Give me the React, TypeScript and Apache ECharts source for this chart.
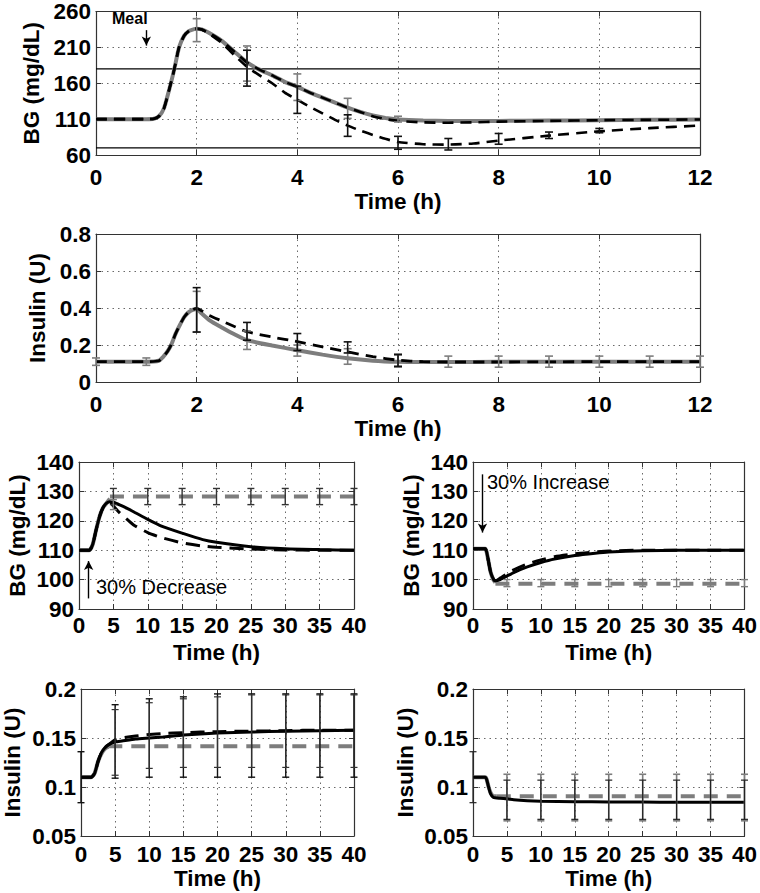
import React, { useEffect, useRef } from 'react';
import * as echarts from 'echarts';

// ---------------- data ----------------
// Panel 1: BG after meal (0-12 h)
const mealTime = [0, 1, 1.15, 1.25, 1.35, 1.45, 1.55, 1.65, 1.75, 1.85, 1.95, 2, 2.1, 2.25, 2.5, 2.75, 3, 3.25, 3.5, 3.75, 4, 4.25, 4.5, 4.75, 5, 5.25, 5.5, 5.75, 6, 6.5, 7, 7.5, 8, 9, 10, 11, 12];
const mealBgGray = [110, 110, 110.5, 114, 125, 150, 178, 210, 226, 233, 235.5, 236, 235, 230, 219, 204, 189, 179, 171, 162, 155, 147, 140, 133, 126, 120, 115, 111.5, 109.5, 108, 107.5, 107.5, 107.5, 108, 108.5, 109, 109.5];
const mealBgDashA = [110, 110, 110.5, 114, 125, 150, 178, 210, 226, 233, 235.5, 236, 235, 230, 219, 204, 189, 179, 171, 162, 155, 147, 140, 133, 126, 120, 114, 110, 107.5, 105.5, 105, 105.5, 106.5, 107.5, 108.5, 109, 109.5];
const mealBgDashB = [110, 110, 110.5, 114, 125, 150, 178, 210, 226, 233, 235.5, 236, 235, 229, 216, 199, 183, 171, 160, 147, 137, 127, 118, 109, 101, 94, 88, 82.5, 78, 75, 74.5, 76, 80, 87, 93, 97.5, 101];
const mealBgErrGray = [[2, 218, 250], [3, 163, 212], [4, 136, 173], [5, 111, 139], [6, 106, 114]];
const mealBgErrBlack = [[3, 156, 206], [4, 118, 156], [5, 86, 116], [6, 68, 86], [7, 67, 83], [8, 75, 90], [9, 83, 92], [10, 91, 97]];
const bgLimits = [70, 180];

// Panel 2: insulin after meal
const insTime = [0, 1, 1.25, 1.33, 1.42, 1.5, 1.58, 1.67, 1.75, 1.83, 1.92, 2, 2.1, 2.25, 2.5, 2.75, 3, 3.5, 4, 4.5, 5, 5.5, 6, 6.5, 7, 8, 9, 10, 11, 12];
const insGray = [0.11, 0.11, 0.115, 0.135, 0.165, 0.205, 0.26, 0.31, 0.35, 0.375, 0.39, 0.395, 0.37, 0.335, 0.295, 0.258, 0.226, 0.197, 0.172, 0.148, 0.128, 0.115, 0.109, 0.108, 0.108, 0.109, 0.11, 0.11, 0.11, 0.11];
const insDash = [0.11, 0.11, 0.115, 0.135, 0.165, 0.205, 0.26, 0.31, 0.35, 0.375, 0.39, 0.398, 0.385, 0.36, 0.33, 0.3, 0.272, 0.243, 0.218, 0.19, 0.163, 0.137, 0.118, 0.11, 0.108, 0.108, 0.109, 0.11, 0.11, 0.11];
const insErrGray = [[0, 0.09, 0.13], [1, 0.09, 0.13], [2, 0.27, 0.49], [3, 0.176, 0.276], [4, 0.14, 0.2], [5, 0.096, 0.18], [6, 0.08, 0.145], [7, 0.08, 0.14], [8, 0.08, 0.14], [9, 0.08, 0.14], [10, 0.08, 0.14], [11, 0.08, 0.14], [12, 0.08, 0.14]];
const insErrBlack = [[2, 0.27, 0.51], [3, 0.226, 0.322], [4, 0.17, 0.262], [5, 0.157, 0.217], [6, 0.085, 0.15]];

// Panel 3: BG, 30% decrease
const decTime = [0, 1.5, 2, 2.5, 3, 3.5, 4, 4.5, 5, 6, 7, 8, 10, 12, 15, 18, 20, 25, 30, 35, 40];
const decBgSolid = [110, 110, 112, 117, 121.5, 124.5, 126, 126.5, 126.3, 125.3, 124.2, 123, 120.5, 118.2, 115.8, 113.6, 112.7, 111.2, 110.5, 110.2, 110];
const decBgDash = [110, 110, 112, 117, 121.5, 124.5, 126, 126.5, 125, 122.5, 120.5, 118.5, 116, 114.3, 112.5, 111.4, 111, 110.4, 110.1, 110, 110];
const decBgGrayStartT = [0, 1.5, 2, 2.5, 3, 3.5, 4, 4.5];
const decBgGrayStart = [110, 110, 112, 117, 121.5, 124.5, 126, 127.5];
const decBgGrayLevel = 128.3;
const decBgGrayLevelT = [4.5, 40];
const decBgErrGray = [[5, 125.5, 131], [10, 125.5, 131], [15, 125.5, 131], [20, 125.5, 131], [25, 125.5, 131], [30, 125.5, 131], [35, 125.5, 131], [40, 125.5, 131]];
const decBgErrBlack = [[5, 123.8, 127.2]];

// Panel 4: BG, 30% increase
const incTime = [0, 1.8, 2, 2.3, 2.6, 3, 3.3, 4, 5, 6, 8, 10, 12, 15, 18, 20, 25, 30, 35, 40];
const incBgSolid = [110.5, 110.5, 109.5, 106, 102.5, 100.2, 99.6, 100, 101.2, 102.4, 104.3, 105.8, 107, 108.2, 109, 109.4, 109.8, 110, 110, 110];
const incBgDash = [110.5, 110.5, 109.5, 106, 102.5, 100.2, 99.6, 100.5, 102, 103.3, 105.3, 106.7, 107.8, 108.8, 109.4, 109.7, 110, 110, 110, 110];
const incBgGrayStartT = [0, 1.8, 2, 2.3, 2.6, 3, 3.3];
const incBgGrayStart = [110.5, 110.5, 109.5, 106, 102.5, 100, 99];
const incBgGrayLevel = 98.6;
const incBgGrayLevelT = [3.3, 40];
const incBgErrGray = [[5, 97.6, 100], [10, 97.6, 100], [15, 97.6, 100], [20, 97.6, 100], [25, 97.6, 100], [30, 97.6, 100], [35, 97.6, 100], [40, 97.6, 100]];

// Panel 5: insulin, 30% decrease
const decInsTime = [0, 1.5, 2, 2.5, 3, 3.5, 4, 5, 6, 8, 10, 12, 15, 20, 25, 30, 35, 40];
const decInsSolid = [0.11, 0.11, 0.114, 0.126, 0.135, 0.14, 0.143, 0.146, 0.147, 0.149, 0.15, 0.151, 0.153, 0.155, 0.156, 0.157, 0.1575, 0.158];
const decInsDash = [0.11, 0.11, 0.114, 0.126, 0.135, 0.14, 0.143, 0.148, 0.15, 0.152, 0.1535, 0.1545, 0.1555, 0.1565, 0.157, 0.1575, 0.158, 0.158];
const decInsGrayStartT = [0, 1.5, 2, 2.5, 3, 3.5, 4];
const decInsGrayStart = [0.11, 0.11, 0.114, 0.126, 0.134, 0.139, 0.141];
const decInsGrayLevel = 0.1415;
const decInsGrayLevelT = [4, 40];
const decInsErrOuter = [[0, 0.084, 0.136], [5, 0.109, 0.184], [10, 0.11, 0.19], [15, 0.11, 0.192], [20, 0.11, 0.195], [25, 0.11, 0.195], [30, 0.11, 0.195], [35, 0.11, 0.195], [40, 0.11, 0.195]];
const decInsErrInner = [[5, 0.112, 0.179], [10, 0.119, 0.186], [15, 0.12, 0.19], [20, 0.12, 0.192], [25, 0.12, 0.194], [30, 0.12, 0.194], [35, 0.12, 0.194], [40, 0.12, 0.194]];

// Panel 6: insulin, 30% increase
const incInsTime = [0, 1.8, 2, 2.3, 2.6, 3, 4, 5, 6, 8, 10, 15, 20, 25, 30, 35, 40];
const incInsSolid = [0.11, 0.11, 0.108, 0.1, 0.093, 0.0895, 0.0885, 0.088, 0.087, 0.086, 0.0855, 0.085, 0.0848, 0.0846, 0.0845, 0.0845, 0.0845];
const incInsGrayStartT = [0, 1.8, 2, 2.3, 2.6, 3, 3.5];
const incInsGrayStart = [0.11, 0.11, 0.108, 0.1, 0.094, 0.0905, 0.0905];
const incInsGrayLevel = 0.0905;
const incInsGrayLevelT = [3.5, 40];
const incInsErrGray = [[5, 0.0655, 0.113], [10, 0.0655, 0.113], [15, 0.0655, 0.113], [20, 0.0655, 0.113], [25, 0.0655, 0.113], [30, 0.0655, 0.113], [35, 0.0655, 0.113], [40, 0.0655, 0.113]];
const incInsErrBlack = [[0, 0.084, 0.136], [5, 0.067, 0.107], [10, 0.067, 0.107], [15, 0.067, 0.107], [20, 0.067, 0.107], [25, 0.067, 0.107], [30, 0.067, 0.107], [35, 0.067, 0.107], [40, 0.067, 0.107]];

// ---------------- style ----------------
const FONT = '"Liberation Sans", Arial, Helvetica, sans-serif';
const GRAY = '#7d7d7d';
const FRAME = '#333333';

const zip = (xs: number[], ys: number[]) => xs.map((x, k) => [x, ys[k]]);
const flat = (xs: number[], v: number) => xs.map((x) => [x, v]);

function lineS(i: number, data: number[][], color: string, width: number, type: any, z: number, extra: any = {}) {
  return {
    type: 'line', xAxisIndex: 2 * i, yAxisIndex: 2 * i, data, showSymbol: false, symbol: 'none',
    smooth: 0.2, lineStyle: { color, width, type }, z, silent: true, ...extra,
  };
}

function errS(i: number, data: number[][], color: string, cap: number, width: number, z: number) {
  return {
    type: 'custom', coordinateSystem: 'cartesian2d', xAxisIndex: 2 * i, yAxisIndex: 2 * i,
    data, encode: { x: 0, y: [1, 2] }, z, silent: true, clip: false,
    renderItem: (_p: any, api: any) => {
      const x = api.value(0);
      const a = api.coord([x, api.value(1)]);
      const b = api.coord([x, api.value(2)]);
      const st = { stroke: color, lineWidth: width };
      return {
        type: 'group',
        children: [
          { type: 'line', shape: { x1: a[0], y1: a[1], x2: b[0], y2: b[1] }, style: st },
          { type: 'line', shape: { x1: a[0] - cap, y1: a[1], x2: a[0] + cap, y2: a[1] }, style: st },
          { type: 'line', shape: { x1: b[0] - cap, y1: b[1], x2: b[0] + cap, y2: b[1] }, style: st },
        ],
      };
    },
  };
}

function arrowML(from: number[], to: number[]) {
  return {
    silent: true, symbol: ['none', 'arrow'], symbolSize: [7, 9],
    lineStyle: { color: '#000', width: 1.4, type: 'solid' }, label: { show: false },
    data: [[{ coord: from }, { coord: to }]],
  };
}

const layouts = [
  { left: 96, top: 8, width: 604, height: 147 },
  { left: 96, top: 234, width: 604, height: 148 },
  { left: 79, top: 462, width: 275, height: 147 },
  { left: 473, top: 462, width: 275, height: 147 },
  { left: 80, top: 689, width: 274, height: 147 },
  { left: 473, top: 689, width: 275, height: 147 },
];

const panels = [
  { x: [0, 12, 2], y: [60, 260, 50], yname: 'BG (mg/dL)', ygap: 51, xm: 11, xg: 31 },
  { x: [0, 12, 2], y: [0, 0.8, 0.2], yname: 'Insulin (U)', ygap: 45, xm: 11, xg: 31 },
  { x: [0, 40, 5], y: [90, 140, 10], yname: 'BG (mg/dL)', ygap: 50, xm: 5, xg: 32 },
  { x: [0, 40, 5], y: [90, 140, 10], yname: 'BG (mg/dL)', ygap: 50, xm: 5, xg: 32 },
  { x: [0, 40, 5], y: [0.05, 0.2, 0.05], yname: 'Insulin (U)', ygap: 57, xm: 7, xg: 30 },
  { x: [0, 40, 5], y: [0.05, 0.2, 0.05], yname: 'Insulin (U)', ygap: 56, xm: 7, xg: 30 },
];

const labelStyle = { color: '#000', fontFamily: FONT, fontWeight: 'bold' as const, fontSize: 22.5 };
const tick = { inside: true, length: 5, lineStyle: { color: FRAME, width: 1 } };
const axLine = { show: true, onZero: false, lineStyle: { color: FRAME, width: 1.2 } };
const grid = { show: true, lineStyle: { type: [1.5, 4], color: '#6a6a6a', width: 1 } };

function buildAxes() {
  const xAxis: any[] = [];
  const yAxis: any[] = [];
  panels.forEach((p, i) => {
    const [xmin, xmax, xint] = p.x;
    const [ymin, ymax, yint] = p.y;
    xAxis.push({
      type: 'value', gridIndex: i, position: 'bottom', min: xmin, max: xmax, interval: xint,
      axisLine: axLine, axisTick: tick, splitLine: grid,
      axisLabel: { ...labelStyle, margin: p.xm, showMinLabel: true, showMaxLabel: true },
      name: 'Time (h)', nameLocation: 'middle', nameGap: p.xg, nameTextStyle: labelStyle,
    });
    xAxis.push({
      type: 'value', gridIndex: i, position: 'top', min: xmin, max: xmax, interval: xint,
      axisLine: axLine, axisTick: tick, splitLine: { show: false }, axisLabel: { show: false },
    });
    yAxis.push({
      type: 'value', gridIndex: i, position: 'left', min: ymin, max: ymax, interval: yint,
      axisLine: axLine, axisTick: tick, splitLine: grid,
      axisLabel: { ...labelStyle, margin: 5, showMinLabel: true, showMaxLabel: true },
      name: p.yname, nameLocation: 'middle', nameGap: p.ygap, nameTextStyle: labelStyle,
    });
    yAxis.push({
      type: 'value', gridIndex: i, position: 'right', min: ymin, max: ymax, interval: yint,
      axisLine: axLine, axisTick: tick, splitLine: { show: false }, axisLabel: { show: false },
    });
  });
  return { xAxis, yAxis };
}

function buildSeries() {
  const s: any[] = [];
  // Panel 1
  s.push(lineS(0, zip(mealTime, mealBgGray), GRAY, 4, 'solid', 3, {
    markLine: arrowML([1, 234], [1, 212.5]),
  }));
  s.push(lineS(0, zip(mealTime, mealBgDashA), '#000', 2.6, [11, 7], 4));
  s.push(lineS(0, zip(mealTime, mealBgDashB), '#000', 2.6, [11, 7], 4));
  s.push(lineS(0, flat([0, 12], bgLimits[1]), '#000', 1.2, 'solid', 2, { smooth: false }));
  s.push(lineS(0, flat([0, 12], bgLimits[0]), '#000', 1.2, 'solid', 2, { smooth: false }));
  s.push(errS(0, mealBgErrGray, GRAY, 4, 1.6, 5));
  s.push(errS(0, mealBgErrBlack, '#111', 4, 1.6, 5));
  // Panel 2
  s.push(lineS(1, zip(insTime, insGray), GRAY, 4, 'solid', 3));
  s.push(lineS(1, zip(insTime, insDash), '#000', 2.8, [11, 7], 4));
  s.push(errS(1, insErrGray, GRAY, 4, 1.6, 5));
  s.push(errS(1, insErrBlack, '#111', 4, 1.6, 5));
  // Panel 3
  s.push(lineS(2, zip(decBgGrayStartT, decBgGrayStart), GRAY, 4, 'solid', 2, {
    markLine: arrowML([1.4, 93.6], [1.4, 106.3]),
  }));
  s.push(lineS(2, flat(decBgGrayLevelT, decBgGrayLevel), GRAY, 4, [14, 9], 2, { smooth: false }));
  s.push(lineS(2, zip(decTime, decBgSolid), '#000', 3, 'solid', 3));
  s.push(lineS(2, zip(decTime, decBgDash), '#000', 3, [14, 8], 3));
  s.push(errS(2, decBgErrGray, '#333', 3.5, 1.4, 5));
  s.push(errS(2, decBgErrBlack, GRAY, 3.5, 1.4, 5));
  // Panel 4
  s.push(lineS(3, zip(incBgGrayStartT, incBgGrayStart), GRAY, 4, 'solid', 2, {
    markLine: arrowML([1.4, 135.8], [1.4, 116]),
  }));
  s.push(lineS(3, flat(incBgGrayLevelT, incBgGrayLevel), GRAY, 4, [14, 9], 2, { smooth: false }));
  s.push(lineS(3, zip(incTime, incBgDash), '#000', 3, [14, 8], 3));
  s.push(lineS(3, zip(incTime, incBgSolid), '#000', 3, 'solid', 3));
  s.push(errS(3, incBgErrGray, GRAY, 3.5, 1.4, 5));
  // Panel 5
  s.push(lineS(4, zip(decInsGrayStartT, decInsGrayStart), GRAY, 4, 'solid', 2));
  s.push(lineS(4, flat(decInsGrayLevelT, decInsGrayLevel), GRAY, 4, [14, 9], 2, { smooth: false }));
  s.push(lineS(4, zip(decInsTime, decInsSolid), '#000', 3, 'solid', 3));
  s.push(lineS(4, zip(decInsTime, decInsDash), '#000', 3, [14, 8], 3));
  s.push(errS(4, decInsErrOuter, '#111', 3.5, 1.4, 5));
  s.push(errS(4, decInsErrInner, '#333', 3.5, 1.2, 5));
  // Panel 6
  s.push(lineS(5, zip(incInsGrayStartT, incInsGrayStart), GRAY, 4, 'solid', 2));
  s.push(lineS(5, flat(incInsGrayLevelT, incInsGrayLevel), GRAY, 4, [14, 9], 2, { smooth: false }));
  s.push(lineS(5, zip(incInsTime, incInsSolid), '#000', 3, 'solid', 3));
  s.push(errS(5, incInsErrGray, GRAY, 3.5, 1.6, 5));
  s.push(errS(5, incInsErrBlack, '#222', 3.5, 1.2, 5));
  return s;
}

export default function App() {
  const ref = useRef<HTMLDivElement>(null);
  useEffect(() => {
    if (!ref.current) return;
    const chart = echarts.init(ref.current, undefined, { renderer: 'svg' });
    const { xAxis, yAxis } = buildAxes();
    chart.setOption({
      animation: false,
      backgroundColor: '#ffffff',
      grid: layouts.map((l) => ({ ...l, containLabel: false })),
      xAxis,
      yAxis,
      series: buildSeries(),
      graphic: [
        { type: 'text', left: 112, top: 10, style: { text: 'Meal', font: `bold 16px ${FONT}`, fill: '#000' } },
        { type: 'text', left: 96, top: 577, style: { text: '30% Decrease', font: `20px ${FONT}`, fill: '#000' } },
        { type: 'text', left: 487, top: 472, style: { text: '30% Increase', font: `20px ${FONT}`, fill: '#000' } },
      ],
    });
    return () => chart.dispose();
  }, []);
  return (
    <div
      ref={ref}
      style={{ position: 'absolute', left: 0, top: 0, width: 760, height: 893, background: '#fff' }}
    />
  );
}
